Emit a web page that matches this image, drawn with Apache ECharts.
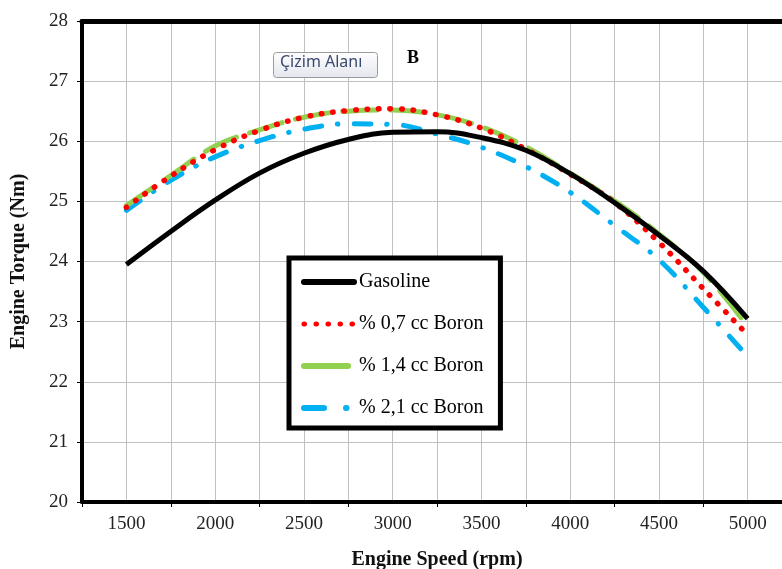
<!DOCTYPE html>
<html>
<head>
<meta charset="utf-8">
<script src="https://cdn.jsdelivr.net/npm/echarts@6/dist/echarts.min.js"></script>
<style>html,body{margin:0;padding:0;background:#fff;}#c{width:782px;height:569px;}</style>
</head>
<body>
<div id="c"></div>
<script>
const speeds = [1500,1750,2000,2250,2500,2750,3000,3250,3500,3750,4000,4250,4500,4750,5000];
const gasoline = [23.95,24.50,25.02,25.47,25.80,26.03,26.15,26.16,26.06,25.85,25.46,24.98,24.44,23.84,23.05];
const boron07 = [24.90,25.42,25.86,26.18,26.40,26.51,26.54,26.44,26.22,25.87,25.45,24.98,24.32,23.55,22.78];
const boron14 = [24.93,25.43,25.92,26.19,26.40,26.50,26.52,26.44,26.24,25.91,25.47,25.01,24.46,23.82,22.92];
const boron21 = [24.85,25.35,25.74,26.01,26.20,26.29,26.28,26.12,25.90,25.58,25.15,24.60,24.03,23.24,22.42];
const seriesNames = ['Gasoline','% 0,7 cc Boron','% 1,4 cc Boron','% 2,1 cc Boron'];
const xLabels = [1500,2000,2500,3000,3500,4000,4500,5000];
const yTicks = [20,21,22,23,24,25,26,27,28];

const pair = arr => speeds.map((s,i)=>[s,arr[i]]);
const serif = '"Liberation Serif","DejaVu Serif",serif';

const styles = [
  {color:'#000',width:5,type:'solid'},
  {color:'#ff0000',width:5.5,type:[0.5,11],cap:'round'},
  {color:'#92d050',width:5,type:[34,14],cap:'round'},
  {color:'#00b0f0',width:5,type:[17,16,0.5,16],cap:'round'}
];
const legendStyles = [
  {color:'#000',width:6,type:'solid',cap:'round'},
  {color:'#ff0000',width:5,type:[0.5,11.5],cap:'round'},
  {color:'#92d050',width:6,type:[44,20],cap:'round'},
  {color:'#00b0f0',width:6,type:[20,22,0.5,20],cap:'round'}
];

const chart = echarts.init(document.getElementById('c'));
chart.setOption({
  animation:false,
  backgroundColor:'#fff',
  grid:{left:82,top:21,width:710,bottom:67,containLabel:false,outerBoundsMode:'none'},
  xAxis:[{
    type:'value',min:1250,max:5250,interval:250,
    axisLine:{show:true,lineStyle:{color:'#000',width:4}},
    axisTick:{show:false},
    splitLine:{show:true,lineStyle:{color:'#c0c0c0',width:1}},
    axisLabel:{margin:13,fontFamily:serif,fontSize:19,color:'#222',
      formatter:v=>xLabels.indexOf(v)>=0?String(v):''},
    name:'Engine Speed (rpm)',nameLocation:'middle',nameGap:48,
    nameTextStyle:{fontFamily:serif,fontSize:20,fontWeight:'bold',color:'#111'}
  },{
    type:'value',min:1250,max:5250,interval:500,position:'bottom',
    axisLine:{show:false},axisLabel:{show:false},splitLine:{show:false},
    axisTick:{show:true,length:5,lineStyle:{color:'#000',width:1}}
  },{
    type:'value',min:1250,max:5250,position:'top',
    axisLine:{show:true,lineStyle:{color:'#000',width:5}},
    axisLabel:{show:false},axisTick:{show:false},splitLine:{show:false}
  }],
  yAxis:{
    type:'value',min:20,max:28,interval:1,
    axisLine:{show:true,lineStyle:{color:'#000',width:4}},
    axisTick:{show:true,length:5,lineStyle:{color:'#000',width:1}},
    splitLine:{show:true,lineStyle:{color:'#c0c0c0',width:1}},
    axisLabel:{margin:14,fontFamily:serif,fontSize:19,color:'#222',
      formatter:v=>yTicks.indexOf(v)>=0?String(v):''},
    name:'Engine Torque (Nm)',nameLocation:'middle',nameGap:53,nameRotate:90,
    nameTextStyle:{fontFamily:serif,fontSize:20,fontWeight:'bold',color:'#111'}
  },
  legend:{
    orient:'vertical',left:289,top:258,
    backgroundColor:'#fff',borderColor:'#000',borderWidth:5,borderRadius:0,
    padding:[14,17,10,12],itemGap:22,itemWidth:50,itemHeight:20,
    itemStyle:{opacity:0},
    textStyle:{fontFamily:serif,fontSize:20,color:'#000'},
    data:seriesNames.map((n,i)=>({name:n,lineStyle:legendStyles[i]}))
  },
  series:[
    {name:seriesNames[0],type:'line',data:pair(gasoline),smooth:0.4,showSymbol:false,symbol:'none',
      lineStyle:styles[0],itemStyle:{color:'#000'},z:5},
    {name:seriesNames[1],type:'line',data:pair(boron07),smooth:0.4,showSymbol:false,symbol:'none',
      lineStyle:styles[1],itemStyle:{color:'#ff0000'},z:4},
    {name:seriesNames[2],type:'line',data:pair(boron14),smooth:0.4,showSymbol:false,symbol:'none',
      lineStyle:styles[2],itemStyle:{color:'#92d050'},z:3},
    {name:seriesNames[3],type:'line',data:pair(boron21),smooth:0.4,showSymbol:false,symbol:'none',
      lineStyle:styles[3],itemStyle:{color:'#00b0f0'},z:2}
  ],
  graphic:[
    {type:'rect',left:273,top:52,shape:{width:104,height:25,r:3},
      style:{fill:new echarts.graphic.LinearGradient(0,0,0,1,[{offset:0,color:'#ffffff'},{offset:1,color:'#e4e6ee'}]),stroke:'#9a9a9a',lineWidth:1},z:10},
    {type:'text',left:280,top:54,style:{text:'Çizim Alanı',font:'16px "Noto Sans", sans-serif',fill:'#3a4a6e'},z:11},
    {type:'text',left:407,top:49,style:{text:'B',font:'bold 18px '+serif,fill:'#000'},z:11}
  ]
});
</script>
</body>
</html>
